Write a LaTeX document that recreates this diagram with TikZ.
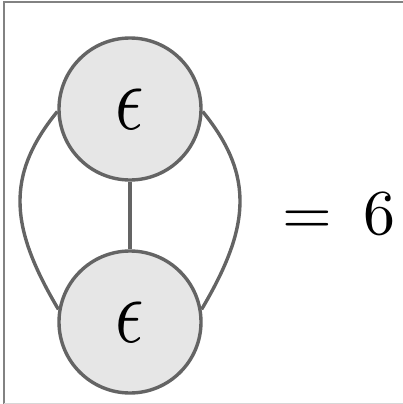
\documentclass[tikz,border=0pt]{standalone}
\definecolor{linegray}{RGB}{100,100,100}
\definecolor{blobfill}{RGB}{230,230,230}
\definecolor{framegray}{RGB}{130,130,130}
\definecolor{framelight}{RGB}{215,215,215}
\newcommand{\epsmark}{\scalebox{7.0}[9.4]{$\epsilon$}}
\begin{document}
\begin{tikzpicture}[x=1pt,y=-1pt,
  lnk/.style={draw=linegray,line width=3.4pt},
  blob/.style={circle,draw=linegray,fill=blobfill,line width=3.4pt,minimum size=142pt,inner sep=0pt},
  lbl/.style={inner sep=0pt,anchor=base}]
\useasboundingbox (0,0) rectangle (402,404);
\draw[framegray,line width=2pt] (4,404) -- (4,2) -- (403,2);
\draw[framelight,line width=1pt] (4,403.5) -- (403,403.5);
\node[blob] (t) at (130,109) {\epsmark};
\node[blob] (b) at (130,322) {\epsmark};
\draw[lnk] (t.south) -- (b.north);
\draw[lnk] (t.182) .. controls (4.1,176.8) and (10.8,228.9) .. (b.170);
\draw[lnk] (t.358) .. controls (255.9,176.8) and (249.2,228.9) .. (b.10);
\node[lbl] (eq) at (307,234.5) {\scalebox{6.4}{$=$}};
\node[lbl] (six) at (379,234.5) {\scalebox{6.4}{$6$}};
\end{tikzpicture}
\end{document}
